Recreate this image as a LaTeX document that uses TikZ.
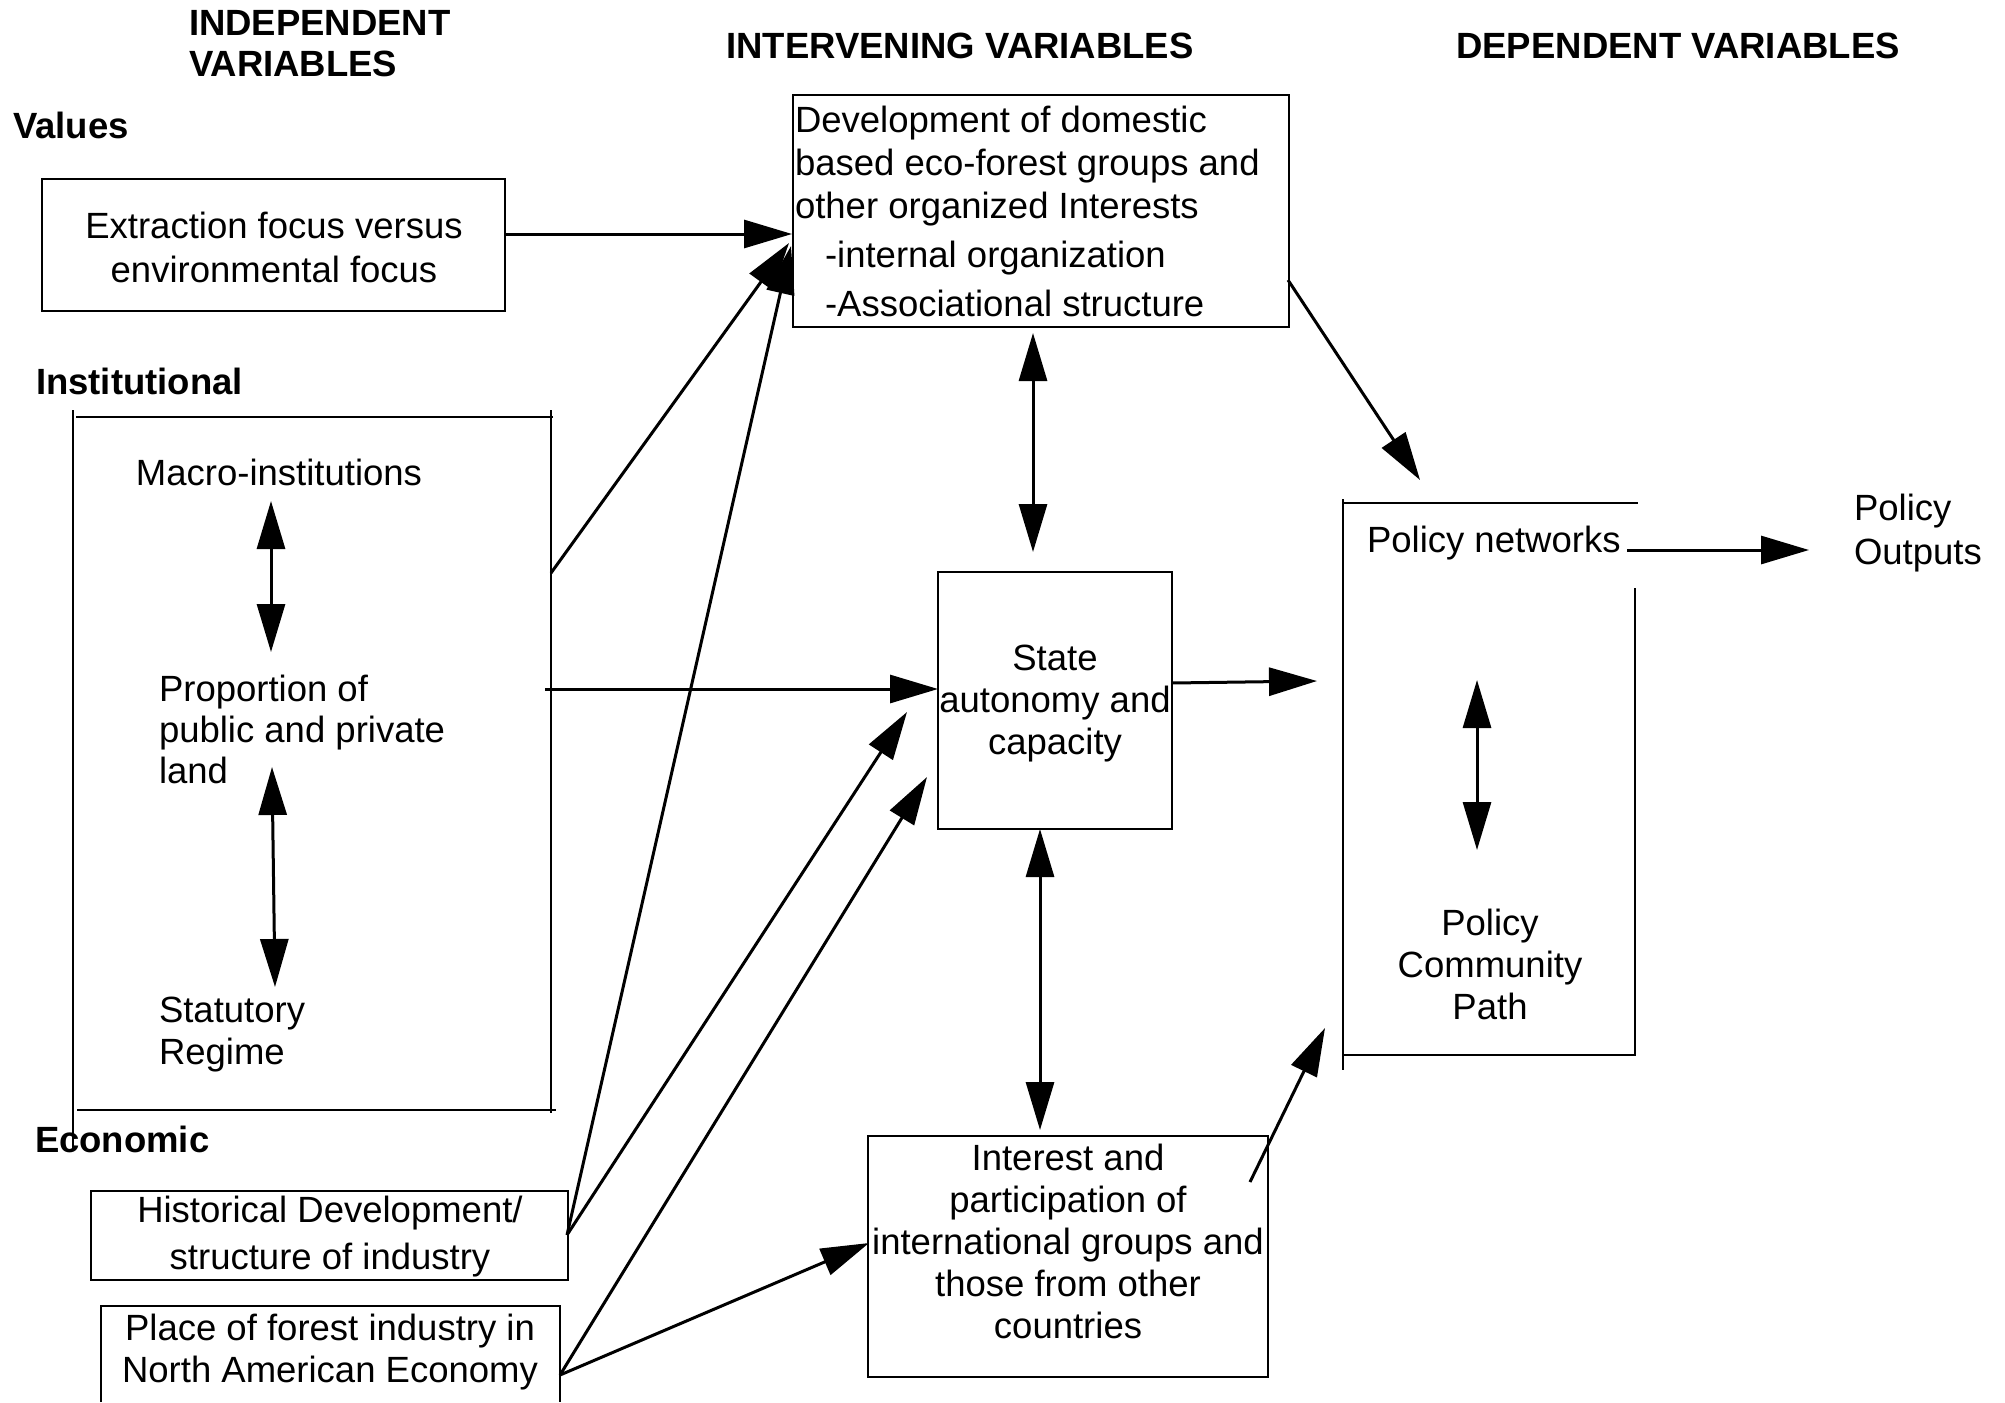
\documentclass[tikz,border=0pt]{standalone}
\usepackage{fontspec}
\setmainfont{Liberation Sans}
\usetikzlibrary{arrows.meta}
\begin{document}
\begin{tikzpicture}[x=0.5pt,y=-0.5pt,
  every node/.style={inner sep=0pt, outer sep=0pt, font=\fontsize{18.25pt}{21.5pt}\selectfont},
  ls/.style={font=\fontsize{18.25pt}{#1}\selectfont},
  box/.style={draw, line width=1.35pt, rectangle},
  hdr/.style={font=\fontsize{18.25pt}{20.5pt}\selectfont\bfseries},
  frame/.style={line width=1.35pt},
  arr/.style={line width=1.5pt, -{Triangle[length=24pt,width=14pt]}},
  dbl/.style={line width=1.5pt, {Triangle[length=24pt,width=14pt]}-{Triangle[length=24pt,width=14pt]}}]
\useasboundingbox (0,0) rectangle (2005,1402);

% headings
\node[hdr, anchor=west, align=left] (indep) at (189,44) {INDEPENDENT\\VARIABLES};
\node[hdr] (interv) at (960,46) {INTERVENING VARIABLES};
\node[hdr] (dep) at (1678,46) {DEPENDENT VARIABLES};
\node[hdr, anchor=west] (values) at (13,125) {Values};
\node[hdr, anchor=west] (instlab) at (36,381) {Institutional};
\node[hdr, anchor=west] (econlab) at (35,1139) {Economic};

% values box
\node[box, minimum width=231.5pt, minimum height=66pt] (extr) at (273.5,245) {};
\node[align=center, ls=22pt] (extrT) at (274,247) {Extraction focus versus\\environmental focus};

% institutional frame
\draw[frame] (73,410) -- (73,1150);
\draw[frame] (76,417) -- (553,417);
\draw[frame] (551,410) -- (551,1113);
\draw[frame] (77,1110) -- (556,1110);
\node (macro) at (279,472) {Macro-institutions};
\node[anchor=west, align=left, ls=20.5pt] (prop) at (159,729) {Proportion of\\public and private\\land};
\node[anchor=west, align=left, ls=21pt] (statut) at (159,1035) {Statutory\\Regime};
\coordinate (m1) at (271,501);
\coordinate (m2) at (271,652);
\coordinate (p1) at (272,767);
\coordinate (p2) at (275,987);
\draw[dbl] (m1) -- (m2);
\draw[dbl] (p1) -- (p2);
\coordinate (instA) at (551,573);
\coordinate (instB) at (545,689);

% economic boxes
\node[box, minimum width=238.5pt, minimum height=44.5pt] (hist) at (329.5,1235.5) {};
\node[align=center, ls=23.5pt] (histT) at (330,1237) {Historical Development/\\structure of industry};
\node[minimum width=229.5pt, minimum height=48pt] (place) at (330.5,1354) {};
\draw[frame] (place.south west) -- (place.north west) -- (place.north east) -- (place.south east);
\node[align=center, ls=21pt] (placeT) at (330,1352) {Place of forest industry in\\North American Economy};
\coordinate (histout) at (567,1235);
\coordinate (placeout) at (560,1375);

% intervening boxes
\node[box, minimum width=248pt, minimum height=116pt] (dev) at (1041,211) {};
\node[anchor=west, align=left] (devT) at (795,211) {Development of domestic\\based eco-forest groups and\\other organized Interests\\[3pt]\hspace*{15pt}-internal organization\\[3pt]\hspace*{15pt}-Associational structure};
\node[box, minimum width=117pt, minimum height=128.5pt] (state) at (1055,700.5) {};
\node[align=center, ls=21pt] (stateT) at (1055,704) {State\\autonomy and\\capacity};
\node[box, minimum width=200pt, minimum height=120.5pt] (interest) at (1068,1256.5) {};
\node[align=center, ls=21pt] (interestT) at (1068,1241) {Interest and\\participation of\\international groups and\\those from other\\countries};

% dependent
\draw[frame] (1343,499) -- (1343,1070);
\draw[frame] (1343,503) -- (1638,503);
\draw[frame] (1635,588) -- (1635,1056);
\draw[frame] (1343,1055) -- (1635,1055);
\node[anchor=west] (polnet) at (1367,543) {Policy networks};
\node[anchor=west, align=left, ls=22pt] (polout) at (1854,533) {Policy\\Outputs};
\node[align=center, ls=21pt] (polcom) at (1490,964) {Policy\\Community\\Path};

% arrow end points
\coordinate (devin1) at (792,234);
\coordinate (devin2) at (789,243);
\coordinate (devin3) at (791,246);
\coordinate (st1) at (907,712);
\coordinate (st2) at (927,777);
\coordinate (intin) at (869,1243);
\coordinate (d1) at (1033,333);
\coordinate (d2) at (1033,552);
\coordinate (s1) at (1040,829);
\coordinate (s2) at (1040,1130);
\coordinate (stout) at (1172,683);
\coordinate (polin1) at (1317,681);
\coordinate (devout) at (1288,280);
\coordinate (polin2) at (1420,480);
\coordinate (intout) at (1250,1182);
\coordinate (polin3) at (1325,1028);
\coordinate (pnout) at (1627,550);
\coordinate (outtip) at (1809,550);
\coordinate (c1) at (1477,680);
\coordinate (c2) at (1477,850);

% connectors
\draw[arr] (extr.east |- devin1) -- (devin1);
\draw[arr] (instA) -- (devin2);
\draw[arr] (instB) -- (state.west |- instB);
\draw[arr] (histout) -- (devin3);
\draw[arr] (histout) -- (st1);
\draw[arr] (placeout) -- (st2);
\draw[arr] (placeout) -- (intin);
\draw[dbl] (d1) -- (d2);
\draw[dbl] (s1) -- (s2);
\draw[arr] (stout) -- (polin1);
\draw[arr] (devout) -- (polin2);
\draw[arr] (intout) -- (polin3);
\draw[arr] (pnout) -- (outtip);
\draw[dbl] (c1) -- (c2);
\end{tikzpicture}
\end{document}
